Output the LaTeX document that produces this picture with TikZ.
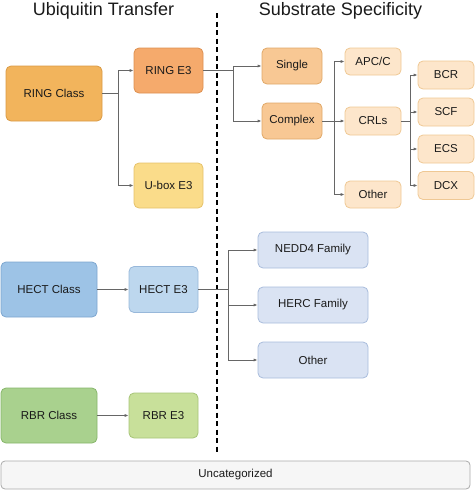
\documentclass[tikz,border=0pt]{standalone}
\usepackage{fontspec}
\setmainfont{Liberation Sans}
\usetikzlibrary{arrows.meta}
\definecolor{ringA}{HTML}{F2B45C}\definecolor{ringAb}{HTML}{D99A45}
\definecolor{ringB}{HTML}{F5AA6C}\definecolor{ringBb}{HTML}{DD9050}
\definecolor{uboxF}{HTML}{FADC8A}\definecolor{uboxB}{HTML}{E6C26A}
\definecolor{subA}{HTML}{F8C894}\definecolor{subAb}{HTML}{E0A868}
\definecolor{subB}{HTML}{FDE6CB}\definecolor{subBb}{HTML}{EFC894}
\definecolor{hecA}{HTML}{9DC3E6}\definecolor{hecAb}{HTML}{7DA6CF}
\definecolor{hecB}{HTML}{BDD7EE}\definecolor{hecBb}{HTML}{98B8DA}
\definecolor{hecC}{HTML}{DAE3F3}\definecolor{hecCb}{HTML}{A8BCDC}
\definecolor{rbrA}{HTML}{A9D18E}\definecolor{rbrAb}{HTML}{86B56A}
\definecolor{rbrB}{HTML}{C8E09A}\definecolor{rbrBb}{HTML}{A6C478}
\definecolor{uncF}{HTML}{F6F6F6}\definecolor{uncB}{HTML}{AAAAAA}
\definecolor{lineG}{HTML}{666666}
\definecolor{txt}{HTML}{1A1A1A}
\begin{document}
\begin{tikzpicture}[x=1pt,y=-1pt,
  box/.style={draw, rounded corners=5pt, line width=0.8pt, inner sep=0pt, align=center,
    text=txt, font=\fontsize{11.5}{13}\selectfont},
  conn/.style={draw=lineG, line width=0.9pt},
  arr/.style={conn, -{Latex[length=4pt,width=3.2pt]}},
  title/.style={text=txt, font=\fontsize{18}{20}\selectfont, anchor=base}]
\useasboundingbox (0,0) rectangle (475,490);
\node[title] (tl) at (103.5,15) {Ubiquitin Transfer};
\node[title] (tr) at (340.5,15) {Substrate Specificity};
\coordinate (dtop) at (217,13);
\coordinate (dbot) at (217,452);
\draw[line width=1.3pt, dash pattern=on 5pt off 3.5pt] (dtop) -- (dbot);
% RING
\node[box, fill=ringA, draw=ringAb, minimum width=96pt, minimum height=55pt] (ringc) at (54,93.5) {RING Class};
\node[box, fill=ringB, draw=ringBb, minimum width=69pt, minimum height=45pt] (ringe) at (168.5,70.5) {RING E3};
\node[box, fill=uboxF, draw=uboxB, minimum width=69pt, minimum height=45pt] (ubox) at (168.5,185.5) {U-box E3};
\node[box, fill=subA, draw=subAb, minimum width=60pt, minimum height=36pt] (single) at (292,66) {Single};
\node[box, fill=subA, draw=subAb, minimum width=60pt, minimum height=36pt] (complex) at (292,121) {Complex};
\node[box, fill=subB, draw=subBb, minimum width=56pt, minimum height=27pt] (apcc) at (373,61.5) {APC/C};
\node[box, fill=subB, draw=subBb, minimum width=56pt, minimum height=28pt] (crls) at (373,121) {CRLs};
\node[box, fill=subB, draw=subBb, minimum width=56pt, minimum height=27pt] (otherA) at (373,194.5) {Other};
\node[box, fill=subB, draw=subBb, minimum width=56pt, minimum height=28pt] (bcr) at (446,75) {BCR};
\node[box, fill=subB, draw=subBb, minimum width=56pt, minimum height=28pt] (scf) at (446,112) {SCF};
\node[box, fill=subB, draw=subBb, minimum width=56pt, minimum height=28pt] (ecs) at (446,149) {ECS};
\node[box, fill=subB, draw=subBb, minimum width=56pt, minimum height=28pt] (dcx) at (446,185.5) {DCX};
% HECT
\node[box, fill=hecA, draw=hecAb, minimum width=96pt, minimum height=55pt] (hectc) at (49,289.5) {HECT Class};
\node[box, fill=hecB, draw=hecBb, minimum width=69pt, minimum height=46pt] (hecte) at (163.5,289.5) {HECT E3};
\node[box, fill=hecC, draw=hecCb, minimum width=110pt, minimum height=36pt] (nedd) at (313,250) {NEDD4 Family};
\node[box, fill=hecC, draw=hecCb, minimum width=110pt, minimum height=36pt] (herc) at (313,305) {HERC Family};
\node[box, fill=hecC, draw=hecCb, minimum width=110pt, minimum height=36pt] (otherB) at (313,360) {Other};
% RBR
\node[box, fill=rbrA, draw=rbrAb, minimum width=96pt, minimum height=55pt] (rbrc) at (49,415.5) {RBR Class};
\node[box, fill=rbrB, draw=rbrBb, minimum width=69pt, minimum height=45pt] (rbre) at (163.5,415.5) {RBR E3};
% Uncategorized
\node[box, fill=uncF, draw=uncB, minimum width=469pt, minimum height=28pt, rounded corners=4pt] (unc) at (235.5,475) {Uncategorized};
% connectors
\coordinate (j1) at (118,93.5);
\draw[conn] (ringc.east) -- (j1);
\draw[arr] (j1) |- (ringe.west);
\draw[arr] (j1) |- (ubox.west);
\coordinate (j2) at (233,70.5);
\draw[conn] (ringe.east) -- (j2);
\draw[arr] (j2) |- (single.west);
\draw[arr] (j2) |- (complex.west);
\coordinate (j3) at (334,121);
\draw[conn] (complex.east) -- (j3);
\draw[arr] (j3) |- (apcc.west);
\draw[arr] (j3) |- (crls.west);
\draw[arr] (j3) |- (otherA.west);
\coordinate (j4) at (410,121);
\draw[conn] (crls.east) -- (j4);
\draw[arr] (j4) |- (bcr.west);
\draw[arr] (j4) |- (scf.west);
\draw[arr] (j4) |- (ecs.west);
\draw[arr] (j4) |- (dcx.west);
\draw[arr] (hectc.east) -- (hecte.west);
\coordinate (j5) at (228,289.5);
\draw[conn] (hecte.east) -- (j5);
\draw[arr] (j5) |- (nedd.west);
\draw[arr] (j5) |- (herc.west);
\draw[arr] (j5) |- (otherB.west);
\draw[arr] (rbrc.east) -- (rbre.west);
\end{tikzpicture}
\end{document}
